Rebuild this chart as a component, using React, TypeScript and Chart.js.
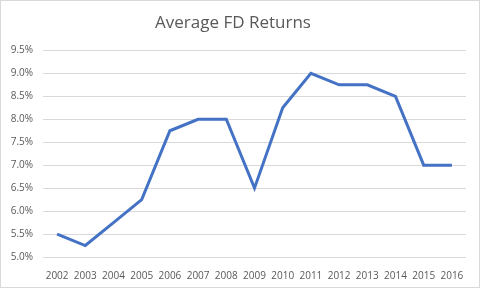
import React, { useEffect, useRef } from "react";
import { Chart, registerables } from "chart.js";

Chart.register(...registerables);

const years = ["2002","2003","2004","2005","2006","2007","2008","2009","2010","2011","2012","2013","2014","2015","2016"];
const returns = [5.5, 5.25, 5.75, 6.25, 7.75, 8.0, 8.0, 6.5, 8.25, 9.0, 8.75, 8.75, 8.5, 7.0, 7.0];
const titleText = "Average FD Returns";

const borderPlugin = {
  id: "outerBorder",
  afterDraw(chart: any) {
    const ctx = chart.ctx;
    ctx.save();
    ctx.strokeStyle = "#d9d9d9";
    ctx.lineWidth = 1;
    ctx.strokeRect(0.5, 0.5, chart.width - 1, chart.height - 1);
    ctx.restore();
  },
};

export default function App() {
  const ref = useRef<HTMLCanvasElement>(null);
  useEffect(() => {
    document.body.style.margin = "0";
    const chart = new Chart(ref.current!, {
      type: "line",
      data: {
        labels: years,
        datasets: [
          {
            data: returns,
            borderColor: "#4472C4",
            borderWidth: 3,
            pointRadius: 0,
            tension: 0,
            fill: false,
          },
        ],
      },
      options: {
        animation: false,
        responsive: false,
        maintainAspectRatio: false,
        layout: { padding: { top: 11, right: 14, bottom: 1, left: 0 } },
        plugins: {
          legend: { display: false },
          tooltip: { enabled: false },
          title: {
            display: true,
            text: titleText,
            color: "#595959",
            font: { family: "Open Sans", size: 17, weight: "normal" },
            padding: { top: 2, bottom: 17 },
          },
        },
        scales: {
          x: {
            offset: true,
            grid: { display: false, offset: true },
            border: { display: false },
            ticks: {
              color: "#595959",
              font: { family: "Open Sans", size: 10 },
              padding: 5,
              maxRotation: 0,
              autoSkip: false,
            },
          },
          y: {
            min: 5.0,
            max: 9.5,
            afterFit(scale: any) {
              scale.width = 43;
            },
            grid: { color: "#d9d9d9", drawTicks: false, lineWidth: 1 },
            border: { display: false },
            ticks: {
              stepSize: 0.5,
              color: "#595959",
              font: { family: "Open Sans", size: 10 },
              padding: 10,
              callback: (v: any) => Number(v).toFixed(1) + "%",
            },
          },
        },
      },
      plugins: [borderPlugin],
    });
    return () => chart.destroy();
  }, []);
  return <canvas ref={ref} width={480} height={288} style={{ display: "block", width: 480, height: 288 }} />;
}
